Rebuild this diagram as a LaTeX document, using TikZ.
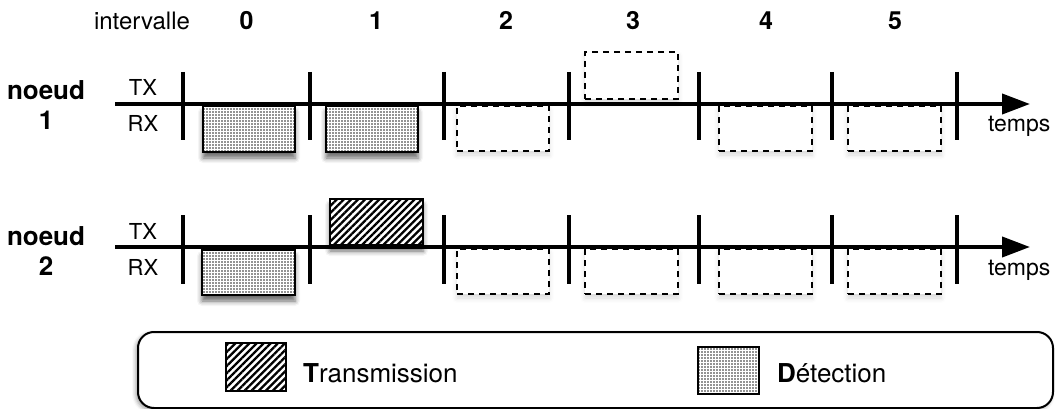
\documentclass[tikz,border=0pt]{standalone}
\usepackage{fontspec}
\setmainfont{TeX Gyre Heros}
\usetikzlibrary{patterns.meta,shadows.blur,arrows.meta}
\begin{document}
\begin{tikzpicture}[x=1pt,y=-1pt,
  txt/.style={inner sep=0pt,outer sep=0pt,anchor=base,font=\fontsize{24}{28}\selectfont},
  lbl/.style={txt,font=\fontsize{22}{26}\selectfont},
  num/.style={txt,font=\fontsize{25}{29}\selectfont\bfseries},
  nodelbl/.style={txt,font=\fontsize{26}{30}\selectfont\bfseries},
  axisline/.style={line width=4pt,-{Triangle[length=28pt,width=20pt]}},
  tickmark/.style={line width=4pt},
  box/.style={minimum width=92pt,minimum height=46pt,inner sep=0pt,outer sep=0pt,line width=2pt},
  shade/.style={blur shadow={shadow xshift=0pt,shadow yshift=-6pt,shadow blur radius=5pt,shadow opacity=60}},
  detfill/.style={box,draw,preaction={fill=white},pattern={Dots[distance=3pt,radius=0.95pt]},pattern color=black!85},
  trfill/.style={box,draw,preaction={fill=white},pattern={Lines[angle=45,distance=5pt,line width=2.3pt]},pattern color=black},
  detbox/.style={shade,detfill},
  trbox/.style={shade,trfill},
  emptybox/.style={box,draw=black,line width=2.2pt,dash pattern=on 6pt off 5pt,
    blur shadow={shadow xshift=0pt,shadow yshift=-4pt,shadow blur radius=5pt,shadow opacity=15},fill=white},
  legendbox/.style={draw,line width=2pt,rounded corners=16pt,minimum width=915pt,minimum height=76pt,inner sep=0pt,
    fill=white,blur shadow={shadow xshift=-2pt,shadow yshift=-2pt,shadow blur radius=4pt,shadow opacity=40}}
]
\useasboundingbox (0,0) rectangle (1055,409);

% top labels
\node[txt,anchor=base west] (lint) at (94,30) {intervalle};
\node[num] (n0) at (246.5,30) {0};
\node[num] (n1) at (376,30) {1};
\node[num] (n2) at (506,30) {2};
\node[num] (n3) at (633,30) {3};
\node[num] (n4) at (766,30) {4};
\node[num] (n5) at (895,30) {5};

% row 1 boxes
\node[detbox] (d10) at (249,129) {};
\node[detbox] (d11) at (372,129) {};
\node[emptybox,minimum height=45pt] (e12) at (503,128.5) {};
\node[emptybox,minimum width=93pt,minimum height=47pt] (e13) at (631.5,75.5) {};
\node[emptybox,minimum width=93pt,minimum height=45pt] (e14) at (765.5,128.5) {};
\node[emptybox,minimum width=93pt,minimum height=45pt] (e15) at (894.5,128.5) {};

% row 2 boxes
\node[detbox,minimum width=93pt,minimum height=45pt] (d20) at (248.5,272.5) {};
\node[trbox,minimum width=93pt] (t21) at (376.5,222) {};
\node[emptybox,minimum height=45pt] (e22) at (503,271.5) {};
\node[emptybox,minimum width=93pt,minimum height=45pt] (e23) at (631.5,271.5) {};
\node[emptybox,minimum width=93pt,minimum height=45pt] (e24) at (765.5,271.5) {};
\node[emptybox,minimum width=93pt,minimum height=45pt] (e25) at (894.5,271.5) {};

% axes
\coordinate (s1) at (115,104);
\coordinate (f1) at (1030,104);
\coordinate (s2) at (115,247);
\coordinate (f2) at (1030,247);
\draw[axisline] (s1) -- (f1);
\draw[axisline] (s2) -- (f2);

% ticks
\foreach \i/\x in {0/183,1/310,2/444,3/569,4/699,5/832,6/957}{
  \coordinate (ta\i) at (\x,72);
  \coordinate (tb\i) at (\x,140);
  \coordinate (tc\i) at (\x,215);
  \coordinate (td\i) at (\x,284);
  \draw[tickmark] (ta\i) -- (tb\i);
  \draw[tickmark] (tc\i) -- (td\i);
}

% row labels
\node[nodelbl] (nd1) at (46,100) {noeud};
\node[nodelbl] (nd1n) at (46,130) {1};
\node[nodelbl] (nd2) at (46,245) {noeud};
\node[nodelbl] (nd2n) at (46,275) {2};
\node[lbl] (tx1) at (143,96) {TX};
\node[lbl] (rx1) at (143,132) {RX};
\node[lbl] (tx2) at (143,239) {TX};
\node[lbl] (rx2) at (143,275) {RX};
\node[txt,anchor=base west,font=\fontsize{23}{27}\selectfont] (tp1) at (988,132) {temps};
\node[txt,anchor=base west,font=\fontsize{23}{27}\selectfont] (tp2) at (988,275) {temps};

% legend
\node[legendbox] (leg) at (595.5,370) {};
\node[trfill,minimum width=60pt,minimum height=48pt] (lt) at (256,367) {};
\node[detfill,minimum width=61pt,minimum height=47pt] (ld) at (728.5,370.5) {};
\node[inner sep=0pt,anchor=west,font=\fontsize{26}{30}\selectfont] (ltt) at (303,373) {\textbf{T}ransmission};
\node[inner sep=0pt,anchor=west,font=\fontsize{26}{30}\selectfont] (ldt) at (777,373) {\textbf{D}étection};
\end{tikzpicture}
\end{document}
